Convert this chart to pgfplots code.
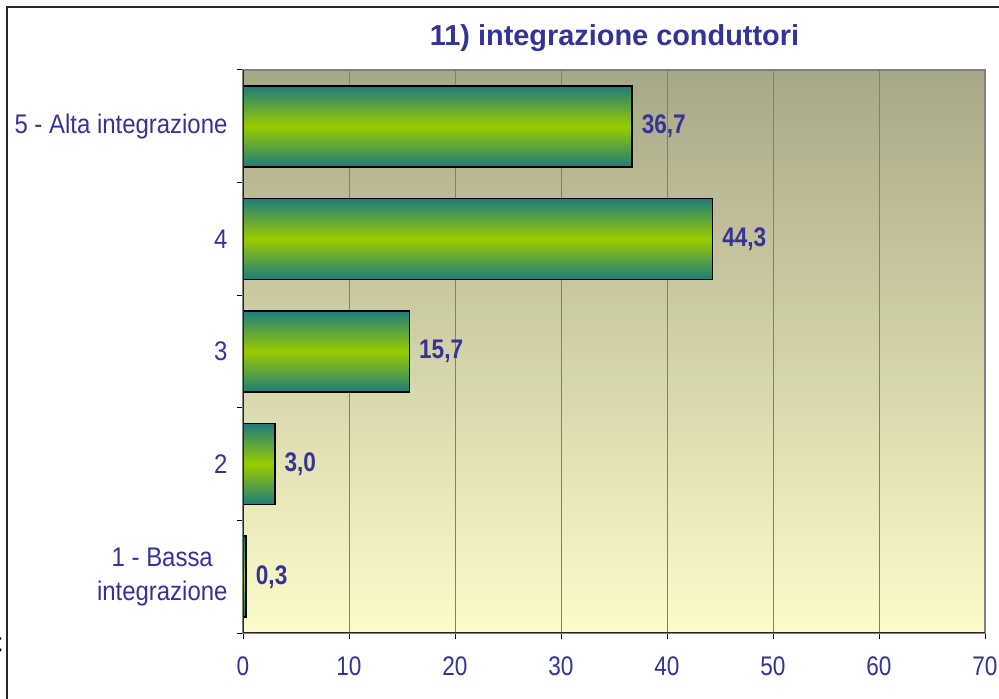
\documentclass[border=0pt]{standalone}
\usepackage{fontspec}
\setmainfont{Liberation Sans}[FakeStretch=0.84]
\newfontfamily\titlefont{Liberation Sans}[FakeStretch=1.0]
\newfontfamily\labfont{Liberation Sans}[FakeStretch=0.89]
\usepackage{pgfplots}
\pgfplotsset{compat=1.18}
\definecolor{tblue}{HTML}{333399}
\definecolor{barteal}{HTML}{1D7C7B}
\definecolor{barlime}{HTML}{99CC00}
\definecolor{bgtop}{HTML}{A9A886}
\definecolor{bgbot}{HTML}{FCFCCA}
\definecolor{gridc}{HTML}{7A7AA0}
\begin{document}
\begin{tikzpicture}
\useasboundingbox (0bp,0bp) rectangle (999bp,699bp);
\draw[line width=1.5bp, color=black!85] (7bp,-5bp) -- (7bp,692bp) -- (1010bp,692bp);
\node[anchor=east, inner sep=0pt, font=\labfont\fontsize{28}{30}\selectfont] at (3bp,54bp) {C};
\node[font=\titlefont\bfseries\fontsize{29}{32}\selectfont, text=tblue] at (614.5bp,661bp) {11) integrazione conduttori};
\begin{axis}[
  at={(243bp,66bp)}, anchor=south west,
  scale only axis, width=742bp, height=563bp,
  xmin=0, xmax=70, ymin=0.5, ymax=5.5,
  xtick={0,10,...,70},
  ytick={1,2,3,4,5},
  yticklabels={{1 - Bassa\\integrazione},2,3,4,{5 - Alta integrazione}},
  minor ytick={0.5,1.5,...,5.5},
  tick pos=left,
  tick align=outside,
  major tick length=6bp,
  minor tick length=6bp,
  major y tick style={draw=none},
  every tick/.style={black, line width=1bp},
  minor y tick style={black, line width=1bp},
  xmajorgrids,
  major x grid style={color=gridc, line width=1bp},
  axis line style={draw=black!50, line width=1.5bp},
  axis background/.style={shade, top color=bgtop, bottom color=bgbot},
  /pgf/number format/assume math mode=true,
  tick label style={font=\fontsize{27}{33}\selectfont, text=tblue},
  xticklabel style={yshift=-14bp},
  yticklabel style={align=center, xshift=-6bp, font=\labfont\fontsize{27}{34}\selectfont},
  barstyle/.style={xbar, bar shift=0pt, bar width=81bp, draw=black, line width=1.5bp,
    top color=barteal, bottom color=barteal, middle color=barlime,
    point meta=x,
    nodes near coords={\pgfmathprintnumber[fixed,fixed zerofill,precision=1,use comma]{\pgfplotspointmeta}},
    every node near coord/.append style={anchor=west, inner sep=0pt, xshift=9bp, font=\bfseries\fontsize{27}{30}\selectfont, text=tblue}},
]
\addplot[barstyle] coordinates {(0.3,1)};
\addplot[barstyle] coordinates {(3.0,2)};
\addplot[barstyle] coordinates {(15.7,3)};
\addplot[barstyle] coordinates {(44.3,4)};
\addplot[barstyle] coordinates {(36.7,5)};
\draw[black!85, line width=1.5bp] (rel axis cs:0,1) -- (rel axis cs:0,0) -- (rel axis cs:1,0);
\end{axis}
\end{tikzpicture}
\end{document}
